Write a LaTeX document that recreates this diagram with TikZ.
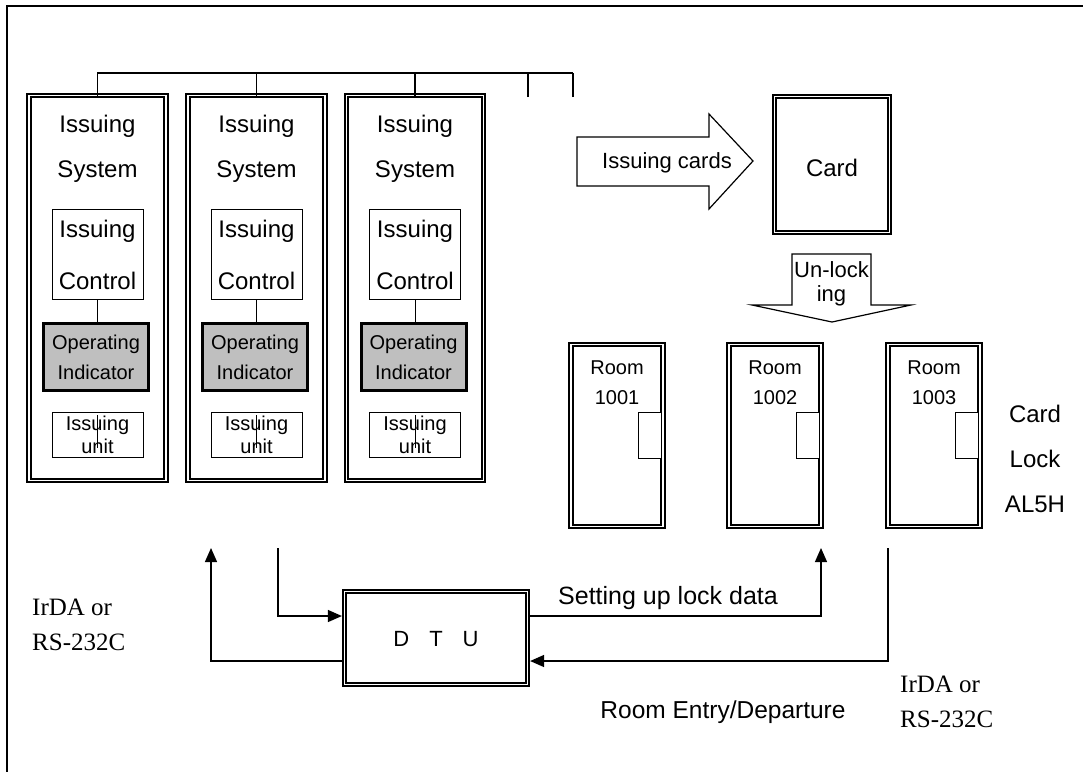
\documentclass[tikz,border=0pt]{standalone}
\usepackage{fontspec}
\setmainfont{Liberation Sans}
\newfontfamily\minchofont{Liberation Serif}
\usetikzlibrary{arrows.meta,calc}
\begin{document}
\begin{tikzpicture}[x=1pt,y=-1pt,
  ln/.style={line width=1.3pt},
  dbl/.style={draw, double, double distance=1.8pt, line width=1.7pt, inner sep=0pt, outer sep=0pt},
  thinbox/.style={draw, line width=1pt, fill=white, inner sep=0pt, outer sep=0pt},
  opbox/.style={draw, line width=3pt, fill=black!25, inner sep=0pt, outer sep=0pt},
  arr/.style={line width=1.3pt, -{Triangle[length=14pt,width=12pt]}},
  shapearrow/.style={draw, line width=1.2pt, fill=white},
  tA/.style={font=\fontsize{24}{24}\selectfont, inner sep=0pt, anchor=base},
  tB/.style={font=\fontsize{20}{20}\selectfont, inner sep=0pt, anchor=base},
  tC/.style={font=\fontsize{22}{22}\selectfont, inner sep=0pt, anchor=base},
  tD/.style={font=\fontsize{25}{25}\selectfont, inner sep=0pt, anchor=base},
  tE/.style={font=\fontsize{24.5}{24.5}\selectfont, inner sep=0pt, anchor=base},
  tM/.style={font=\minchofont\fontsize{25}{25}\selectfont, inner sep=0pt, anchor=base west}
]
\useasboundingbox (0,0) rectangle (1083,772);
% outer frame (top and left only)
\draw[line width=1.8pt] (1083,6) -- (7,6) -- (7,772);

% issuing systems
\foreach \i/\cx in {1/97.5,2/256.5,3/415}{
  \node[dbl, minimum width=137pt, minimum height=385pt] (sys\i) at (\cx,288) {};
  \node[tA] (sysa\i) at (\cx,132) {Issuing};
  \node[tA] (sysb\i) at (\cx,177) {System};
  \node[thinbox, minimum width=91pt, minimum height=90pt] (ctl\i) at (\cx,254) {};
  \node[tA] (ctla\i) at (\cx,237) {Issuing};
  \node[tA] (ctlb\i) at (\cx,289) {Control};
  \node[opbox, minimum width=105pt, minimum height=67pt] (op\i) at (\cx-1.5,357) {};
  \node[tB] (opa\i) at (\cx-1.5,349) {Operating};
  \node[tB] (opb\i) at (\cx-1.5,379) {Indicator};
  \node[thinbox, minimum width=91pt, minimum height=45pt] (unit\i) at (\cx,434.5) {};
  \node[tB] (unita\i) at (\cx,430) {Issuing};
  \node[tB] (unitb\i) at (\cx,453) {unit};
  \draw[line width=1pt] (ctl\i.south) -- (op\i.north -| ctl\i.south);
  \draw[line width=1pt] ($(unit\i.north)+(0,3)$) -- ($(unit\i.south)+(0,-9)$);
}

% bus
\coordinate (b5) at (573,73);
\coordinate (s4) at (528,97);
\coordinate (s5) at (573,97);
\draw[ln] (sys1.north) |- (b5);
\draw[ln] (sys2.north) -- (sys2.north |- b5);
\draw[ln] (sys3.north) -- (sys3.north |- b5);
\draw[ln] (s4) -- (s4 |- b5);
\draw[ln] (s5) -- (b5);

% issuing cards arrow
\draw[shapearrow] (577,137) -- (709,137) -- (709,114) -- (753,161) -- (709,209) -- (709,186) -- (577,186) -- cycle;
\node[tC] (issc) at (667,168) {Issuing cards};

% card
\node[dbl, minimum width=115pt, minimum height=136pt] (card) at (832,164.5) {};
\node[tA] (cardt) at (832,176) {Card};

% unlocking arrow
\draw[shapearrow] (792,254) -- (871,254) -- (871,305) -- (911,305) -- (832,322) -- (752,305) -- (792,305) -- cycle;
\node[tC] (unla) at (831.5,277) {Un-lock};
\node[tC] (unlb) at (831.5,301) {ing};

% doors
\foreach \i/\cx/\num in {1/617/1001,2/775/1002,3/934/1003}{
  \node[dbl, minimum width=92pt, minimum height=182pt] (door\i) at (\cx,435.5) {};
  \node[thinbox, minimum width=23pt, minimum height=46pt] (lock\i) at (\cx+33,435) {};
  \node[tB] (rooma\i) at (\cx,374) {Room};
  \node[tB] (roomb\i) at (\cx,404) {\num};
}
\node[tA] (cl1) at (1035,422) {Card};
\node[tA] (cl2) at (1035,467) {Lock};
\node[tA] (cl3) at (1035,512) {AL5H};

% DTU
\node[dbl, minimum width=183pt, minimum height=93pt] (dtu) at (436,638) {};
\node[tC] (dtut) at (436,646) {D\hspace{20pt}T\hspace{20pt}U};

\coordinate (a1) at (211,548);
\coordinate (a2) at (278,548);
\coordinate (a3) at (821,548);
\coordinate (a4) at (888,548);
\coordinate (up) at (0,616);
\coordinate (lo) at (0,661);
\draw[arr] (a2) |- ($(dtu.west |- up)+(-2.6,0)$);
\draw[arr] ($(dtu.east |- up)+(2.6,0)$) -| (a3);
\draw[arr] (a4) |- ($(dtu.east |- lo)+(2.6,0)$);
\draw[arr] ($(dtu.west |- lo)+(-2.6,0)$) -| (a1);

\node[tD] (setl) at (668,604) {Setting up lock data};
\node[tE] (roome) at (723,718) {Room Entry/Departure};

\node[tM] (irl1) at (32,615) {IrDA or};
\node[tM] (irl2) at (32,650) {RS-232C};
\node[tM] (irr1) at (900,692) {IrDA or};
\node[tM] (irr2) at (900,727) {RS-232C};
\end{tikzpicture}
\end{document}
